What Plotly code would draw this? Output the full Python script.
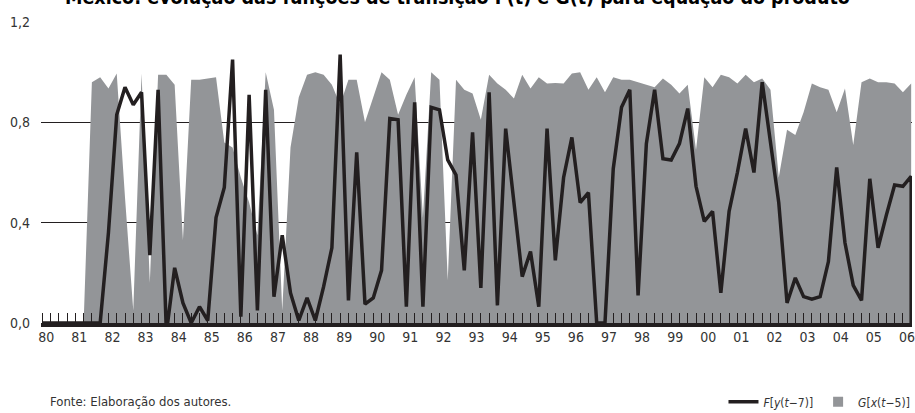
import plotly.graph_objects as go

# ---- data (quarterly, 1980Q1 .. 2006Q2) ----
years = ["80", "81", "82", "83", "84", "85", "86", "87", "88", "89", "90", "91", "92",
         "93", "94", "95", "96", "97", "98", "99", "00", "01", "02", "03", "04", "05", "06"]

quarter_index = list(range(106))

F_values = [
    0, 0, 0, 0, 0, 0, 0, 0, 0.36, 0.83,
    0.94, 0.87, 0.92, 0.27, 0.93, -0.04, 0.22, 0.08, 0.00, 0.065,
    0.01, 0.42, 0.54, 1.05, 0.025, 0.91, 0.05, 0.93, 0.105, 0.35,
    0.12, 0.01, 0.10, 0.01, 0.145, 0.30, 1.07, 0.09, 0.68, 0.075,
    0.10, 0.21, 0.815, 0.81, 0.065, 0.88, 0.065, 0.86, 0.85, 0.65,
    0.59, 0.21, 0.76, 0.14, 0.92, 0.07, 0.775, 0.48, 0.185, 0.285,
    0.065, 0.775, 0.25, 0.58, 0.74, 0.48, 0.52, 0.00, 0.00, 0.615,
    0.86, 0.93, 0.11, 0.715, 0.93, 0.655, 0.65, 0.715, 0.855, 0.545,
    0.405, 0.445, 0.12, 0.445, 0.60, 0.775, 0.60, 0.96, 0.73, 0.48,
    0.08, 0.18, 0.105, 0.095, 0.105, 0.245, 0.62, 0.32, 0.15, 0.09,
    0.575, 0.30, 0.43, 0.55, 0.545, 0.585,
]

G_values = [
    0, 0, 0, 0, 0, 0, 0.96, 0.98, 0.935, 0.995,
    0.50, 0.05, 0.995, 0.16, 0.99, 0.99, 0.95, 0.33, 0.97, 0.97,
    0.975, 0.98, 0.72, 0.70, 0.58, 0.48, 0.35, 1.00, 0.85, 0.05,
    0.70, 0.90, 0.99, 1.00, 0.99, 0.95, 0.87, 0.97, 0.97, 0.80,
    0.90, 1.00, 0.97, 0.83, 0.91, 0.98, 0.42, 1.00, 0.97, 0.17,
    0.97, 0.93, 0.915, 0.81, 0.99, 0.955, 0.93, 0.895, 0.99, 0.935,
    0.98, 0.955, 0.957, 0.955, 0.995, 1.00, 0.93, 0.98, 0.92, 0.98,
    0.97, 0.97, 0.96, 0.95, 0.94, 0.975, 0.95, 0.915, 0.95, 0.69,
    0.98, 0.94, 0.99, 0.98, 0.955, 0.99, 0.96, 0.975, 0.93, 0.58,
    0.77, 0.75, 0.84, 0.955, 0.94, 0.93, 0.84, 0.935, 0.71, 0.96,
    0.975, 0.96, 0.96, 0.955, 0.92, 0.955,
]

y_ticks = [0.0, 0.4, 0.8, 1.2]

title_text = "México: evolução das funções de transição F(t) e G(t) para equação do produto"
source_text = "Fonte: Elaboração dos autores."
name_F = "<i>F</i>[<i>y</i>(<i>t</i>−7)]"
name_G = "<i>G</i>[<i>x</i>(<i>t</i>−5)]"

GRAY = "#939598"
INK = "#231f20"
FONT = "Liberation Sans Narrow, DejaVu Sans Condensed, Roboto, sans-serif"

# one tick per quarter, year label on the first quarter of each year
tick_text = [years[q // 4] if q % 4 == 0 else "" for q in quarter_index]

fig = go.Figure()

fig.add_trace(go.Scatter(
    x=quarter_index, y=G_values, mode="lines", fill="tozeroy",
    fillcolor=GRAY, line=dict(width=0, color=GRAY),
    showlegend=False, hoverinfo="skip",
))
# legend glyph for G
fig.add_trace(go.Scatter(
    x=[None], y=[None], mode="markers",
    marker=dict(symbol="square", size=10, color=GRAY),
    name=name_G, legendrank=2,
))
# F line (closes down to the axis at the last quarter)
fig.add_trace(go.Scatter(
    x=quarter_index + [quarter_index[-1]], y=F_values + [0],
    mode="lines", line=dict(color=INK, width=3.5),
    name=name_F, legendrank=1,
))

fig.update_layout(
    width=915, height=413,
    margin=dict(l=41, r=3, t=22, b=90, autoexpand=False),
    paper_bgcolor="white", plot_bgcolor="white",
    separators=",.",
    font=dict(family=FONT, size=13, color="#333333"),
    showlegend=True,
    legend=dict(
        orientation="h", x=1.004, xanchor="right", y=-0.262, yanchor="middle",
        font=dict(family=FONT, size=12, color="#333333"),
        bgcolor="rgba(0,0,0,0)", itemwidth=30,
    ),
    xaxis=dict(
        range=[-0.15, 105.1],
        tickmode="array", tickvals=quarter_index, ticktext=tick_text,
        ticks="inside", ticklen=10, tickwidth=1.3, tickcolor=INK,
        ticklabelshift=4, ticklabelstandoff=-2,
        showgrid=False, zeroline=False,
        showline=True, linecolor=INK, linewidth=3.5,
        tickfont=dict(family=FONT, size=14, color="#333333"),
        layer="above traces",
    ),
    yaxis=dict(
        range=[0, 1.2], tickmode="array", tickvals=y_ticks, tickformat=".1f",
        ticks="", showgrid=True, gridcolor=INK, gridwidth=1.2,
        zeroline=False, showline=False,
        tickfont=dict(family=FONT, size=14, color="#333333"),
        ticklabelstandoff=10,
    ),
    annotations=[
        dict(text="<b>" + title_text + "</b>", xref="paper", yref="paper",
             x=0.478, y=1.035, xanchor="center", yanchor="bottom",
             showarrow=False, font=dict(family=FONT, size=19.5, color="#000000")),
        dict(text=source_text, xref="paper", yref="paper",
             x=0.008, y=-0.262, xanchor="left", yanchor="middle",
             showarrow=False, font=dict(family=FONT, size=13, color="#333333")),
    ],
)

fig.write_html("out.html", config={"displayModeBar": False},
               post_script="document.body.style.margin='0px';")
